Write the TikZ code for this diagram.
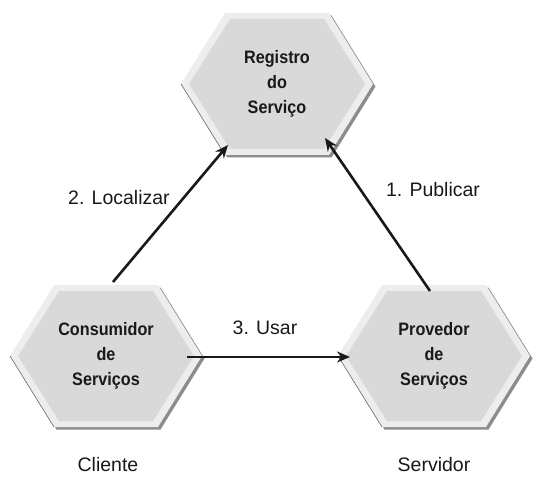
\documentclass[tikz,border=0pt]{standalone}
\usepackage{fontspec}
\setmainfont{Liberation Sans}
\newfontfamily\hexfont[FakeStretch=0.9]{Liberation Sans}
\usetikzlibrary{arrows.meta}
\definecolor{hexfill}{HTML}{D9D9D9}
\definecolor{hexrim}{HTML}{EDEDED}
\definecolor{hexshadow}{HTML}{8C8C8C}
\tikzset{
  hexlabel/.style={font=\hexfont\bfseries\fontsize{18}{25}\selectfont, align=center, inner sep=0pt, text=black!90},
  plainlabel/.style={font=\fontsize{19.5}{22}\selectfont, inner sep=0pt, text=black!90},
  flow/.style={line width=2.6pt, -{Stealth[length=13pt,width=11pt]}, black!90},
}
\newcommand{\hexagonat}[2]{%
  % #1 x, #2 y of centre
  \fill[hexshadow] (#1-96+2.5,#2+2.5) -- (#1-52+2.5,#2-71+2.5) -- (#1+52+2.5,#2-71+2.5) -- (#1+96+2.5,#2+2.5) -- (#1+52+2.5,#2+71+2.5) -- (#1-52+2.5,#2+71+2.5) -- cycle;
  \fill[hexrim] (#1-96,#2) -- (#1-52,#2-71) -- (#1+52,#2-71) -- (#1+96,#2) -- (#1+52,#2+71) -- (#1-52,#2+71) -- cycle;
  \fill[hexfill] (#1-88,#2) -- (#1-47,#2-65) -- (#1+47,#2-65) -- (#1+88,#2) -- (#1+47,#2+65) -- (#1-47,#2+65) -- cycle;
  \draw[gray!80!black, line width=0.6pt] (#1-96,#2) -- (#1-52,#2+71);
}
\begin{document}
\begin{tikzpicture}[x=1pt,y=-1pt]
\useasboundingbox (0,0) rectangle (549,481);
\fill[white] (0,0) rectangle (549,481);

\hexagonat{277}{84}
\hexagonat{106}{356}
\hexagonat{434}{356}

\node[hexlabel] (registro) at (277,84) {Registro\\do\\Serviço};
\node[hexlabel] (consumidor) at (106,356) {Consumidor\\de\\Serviços};
\node[hexlabel] (provedor) at (434,356) {Provedor\\de\\Serviços};

\node[plainlabel] (cliente) at (108,465) {Cliente};
\node[plainlabel] (servidor) at (434,465) {Servidor};

\coordinate (locStart) at (113,282);
\coordinate (locEnd) at (228,145);
\coordinate (pubStart) at (430,291);
\coordinate (pubEnd) at (325,138);
\coordinate (usarStart) at (187,357);
\coordinate (usarEnd) at (350,357);

\draw[flow] (locStart) -- (locEnd);
\draw[flow] (pubStart) -- (pubEnd);
\draw[flow] (usarStart) -- (usarEnd);

\node[plainlabel] (localizar) at (119,198) {2. Localizar};
\node[plainlabel] (publicar) at (433,190) {1. Publicar};
\node[plainlabel] (usar) at (265,328) {3. Usar};
\end{tikzpicture}
\end{document}
